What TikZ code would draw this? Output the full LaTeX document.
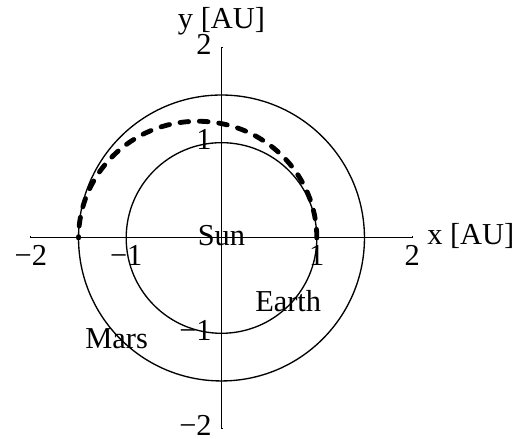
\documentclass[tikz,border=0pt]{standalone}
\usepackage{fontspec}
\setmainfont{Liberation Serif}
\usetikzlibrary{positioning}

\begin{document}
\begin{tikzpicture}[x=2.5cm, y=2.5cm, every node/.style={font=\fontsize{22.7}{27}\selectfont, inner sep=0pt}, orbit/.style={line width=1pt}, axisline/.style={line width=0.75pt}, transfer/.style={line width=3.6pt, line cap=round, dash pattern=on 6.5pt off 8pt}]
\useasboundingbox (-2.324,-2.099) rectangle (3.069,2.497);
% axes
\coordinate (xl) at (-2,0); \coordinate (xr) at (2,0);
\coordinate (yb) at (0,-2); \coordinate (yt) at (0,2);
\draw[axisline] (xl) -- (xr);
\draw[axisline] (yb) -- (yt);
\foreach \t in {-2,-1,1,2} {
  \draw[axisline] (\t,0) -- ++(0,0.02);
  \draw[axisline] (0,\t) -- ++(0.02,0);
}
\foreach \t/\lbl in {-2/−2,-1/−1,1/1,2/2} {
  \node[anchor=north] (xt\t) at (\t,-0.07) {\lbl};
  \node[anchor=east] (yt\t) at (-0.1,\t+0.03) {\lbl};
}
\node[anchor=west] (xlab) at (2.156,0.02) {x [AU]};
\node (ylab) at (0,2.27) {y [AU]};
% orbits
\draw[orbit] (0,0) circle[radius=1];
\draw[orbit] (0,0) circle[radius=1.5];
\draw[transfer] (1,0) arc[start angle=0, end angle=180, x radius=1.25, y radius=1.2247];
\node (sun) at (0,0.03) {Sun};
\node (earth) at (0.70,-0.66) {Earth};
\node (mars) at (-1.10,-1.06) {Mars};
\end{tikzpicture}
\end{document}
